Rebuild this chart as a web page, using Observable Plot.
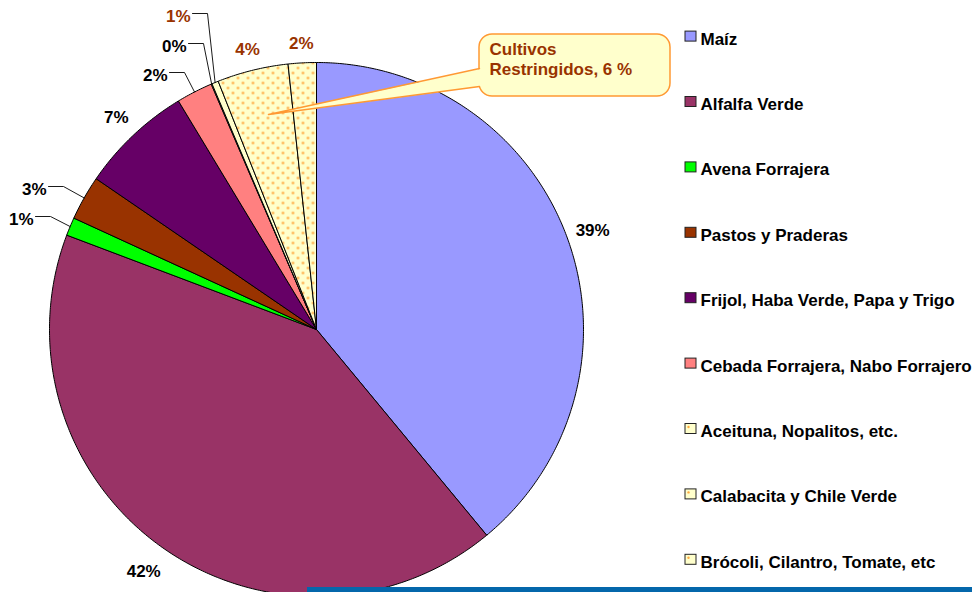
<!DOCTYPE html>
<html><head><meta charset="utf-8">
<script src="https://cdn.jsdelivr.net/npm/d3@7"></script>
<script src="https://cdn.jsdelivr.net/npm/@observablehq/plot@0.6"></script>
<style>
html,body{margin:0;padding:0;background:#fff;overflow:hidden}
#chart{position:relative;width:972px;height:592px}
#bar{position:absolute;left:307px;top:587px;width:665px;height:5px;background:#0467AB}
</style></head><body><div id="chart"><div id="bar"></div></div>
<script>
// ---- data ----
const categories = ["Maíz","Alfalfa Verde","Avena Forrajera","Pastos y Praderas","Frijol, Haba Verde, Papa y Trigo","Cebada Forrajera, Nabo Forrajero","","Aceituna, Nopalitos, etc.","Calabacita y Chile Verde","Brócoli, Cilantro, Tomate, etc"];
const values = [39.0, 41.75, 1.1, 2.7, 6.8, 2.2, 0.05, 0.4, 4.3, 1.7];
const percentLabels = ["39%","42%","1%","3%","7%","2%","0%","1%","4%","2%"];
const restricted = [false,false,false,false,false,false,false,true,true,true];
const sliceColors = ["#9999FF","#993366","#00FF00","#993300","#660066","#FF8080","#FFFFCC","#FFFFCC","url(#dots)","url(#dots)"];
const legendColors = ["#9999FF","#993366","#00FF00","#993300","#660066","#FF8080","#FFFFCC","#FFFFCC","#FFFFCC","#FFFFCC"];
const calloutLines = ["Cultivos", "Restringidos, 6 %"];

// ---- layout ----
const W = 972, H = 592, cx = 316, cy = 329, R = 267;
const FONT = "Arial, 'Liberation Sans', sans-serif";
const arcs = d3.pie().sort(null).value(d => d)(values);
const pt = (a, r) => ({x: cx + r * Math.sin(a), y: cy - r * Math.cos(a)});

const slices = arcs.map((a, i) => {
  const pts = [{x: cx, y: cy}];
  const n = Math.max(2, Math.ceil((a.endAngle - a.startAngle) / (Math.PI / 360)));
  for (let k = 0; k <= n; k++) pts.push(pt(a.startAngle + (a.endAngle - a.startAngle) * k / n, R));
  pts.push({x: cx, y: cy});
  return pts;
});

// labels with leader lines (label anchor where the leader starts)
const leaderLayout = {2: {x: 35, y: 216}, 3: {x: 48, y: 186}, 5: {x: 169, y: 72}, 6: {x: 188, y: 43}, 7: {x: 192, y: 13}};
const freeLabels = [], leaderLabels = [], leaders = [];
arcs.forEach((a, i) => {
  const mid = (a.startAngle + a.endAngle) / 2;
  const color = restricted[i] ? "#993300" : "#000";
  if (leaderLayout[i]) {
    const L = leaderLayout[i];
    leaderLabels.push({x: L.x - 2, y: L.y + 3, text: percentLabels[i], color});
    const e = pt(mid, R);
    leaders.push([{x: L.x, y: L.y}, {x: L.x + 15, y: L.y}, {x: e.x, y: e.y}]);
  } else {
    const r = R + 19 + 8 * Math.abs(Math.sin(mid)) + 8 * Math.max(0, -Math.cos(mid));
    const p = pt(mid, r);
    freeLabels.push({x: p.x, y: p.y, text: percentLabels[i], color});
  }
});

const legend = categories.map((c, i) => ({c, color: legendColors[i], dotted: restricted[i]})).filter(d => d.c !== "")
  .map((d, j) => ({...d, y: 38.6 + j * 65.4}));

const box = {x1: 479, x2: 670, y1: 34, y2: 96};
const tip = {x: 268, y: 114};
const pointerFill = [{x: box.x1 + 3, y: 68}, tip, {x: box.x1 + 3, y: 86}];
const pointerStroke = [{x: box.x1, y: 68}, tip, {x: box.x1, y: 86}];

const marks = [];
slices.forEach((pts, i) => marks.push(Plot.line(pts, {x: "x", y: "y", fill: sliceColors[i], stroke: "#000", strokeWidth: 1, strokeLinejoin: "round"})));
leaders.forEach(l => marks.push(Plot.line(l, {x: "x", y: "y", stroke: "#000", strokeWidth: 0.9})));
marks.push(Plot.text(freeLabels, {x: "x", y: "y", text: "text", fill: "color", fontWeight: "bold", fontSize: 17, textAnchor: "middle"}));
marks.push(Plot.text(leaderLabels, {x: "x", y: "y", text: "text", fill: "color", fontWeight: "bold", fontSize: 17, textAnchor: "end"}));
// callout
marks.push(Plot.rect([box], {x1: "x1", x2: "x2", y1: "y1", y2: "y2", rx: 13, fill: "#FFFFCC", stroke: "#FF9933", strokeWidth: 1.5}));
marks.push(Plot.line(pointerFill, {x: "x", y: "y", fill: "#FFFFCC", stroke: "none"}));
marks.push(Plot.line(pointerStroke, {x: "x", y: "y", stroke: "#FF9933", strokeWidth: 1.5}));
marks.push(Plot.text(calloutLines.map((t, k) => ({t, y: 49 + k * 20})), {x: 489, y: "y", text: "t", fill: "#993300", fontWeight: "bold", fontSize: 17, textAnchor: "start"}));
// legend
legend.forEach(d => marks.push(Plot.rect([d], {x1: 685, x2: 696, y1: d => d.y - 7.5, y2: d => d.y + 2.5, fill: d.color, stroke: "#222", strokeWidth: 1})));
marks.push(Plot.dot(legend.filter(d => d.dotted), {x: 688, y: d => d.y - 4.5, r: 1.2, fill: "#FFA940", stroke: "none"}));
marks.push(Plot.text(legend, {x: 700, y: "y", text: "c", fill: "#000", fontWeight: "bold", fontSize: 17, textAnchor: "start"}));

const chart = Plot.plot({
  width: W, height: H, margin: 0,
  x: {domain: [0, W], range: [0, W], axis: null},
  y: {domain: [0, H], range: [0, H], axis: null},
  style: {fontFamily: FONT, background: "transparent", overflow: "visible"},
  marks
});
// dot pattern for restricted crops
d3.select(chart).insert("defs", ":first-child").html(
  `<pattern id="dots" patternUnits="userSpaceOnUse" width="10" height="10">
     <rect width="10" height="10" fill="#FFFFCC"/>
     <circle cx="2.5" cy="2.5" r="1.3" fill="#FFA940"/>
     <circle cx="7.5" cy="7.5" r="1.3" fill="#FFA940"/>
   </pattern>`);
chart.style.position = "absolute"; chart.style.left = "0"; chart.style.top = "0";
document.getElementById("chart").prepend(chart);
</script></body></html>
